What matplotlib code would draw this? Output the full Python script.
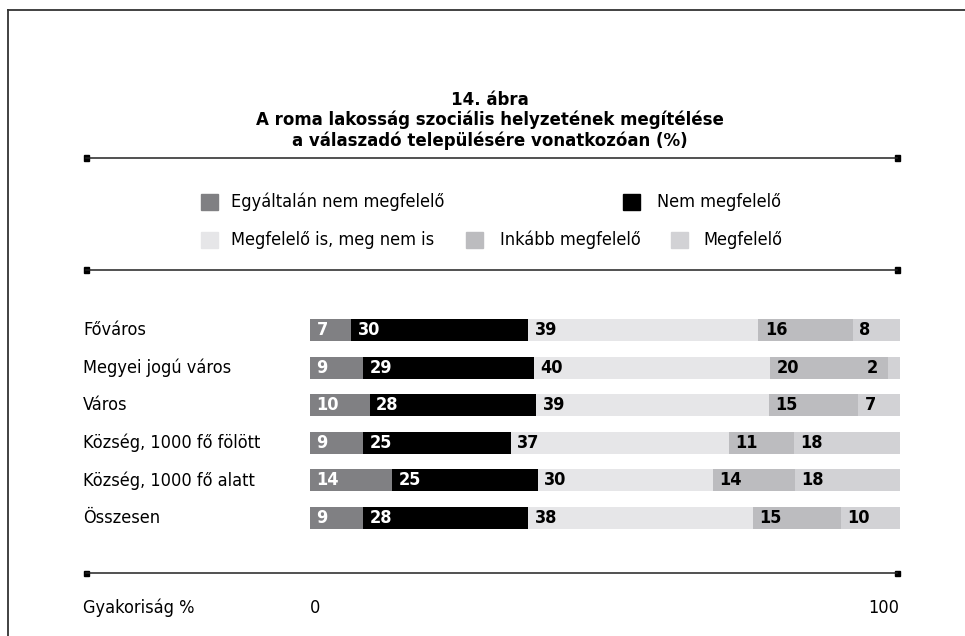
import numpy as np
import matplotlib
matplotlib.use('Agg')
import matplotlib.pyplot as plt
from matplotlib.lines import Line2D
from matplotlib.patches import Rectangle

plt.rcParams['font.family'] = ['DejaVu Sans']
plt.rcParams['font.stretch'] = 'condensed'

# data
categories = ['Főváros', 'Megyei jogú város', 'Város',
              'Község, 1000 fő fölött', 'Község, 1000 fő alatt', 'Összesen']
series = ['Egyáltalán nem megfelelő', 'Nem megfelelő',
          'Megfelelő is, meg nem is', 'Inkább megfelelő', 'Megfelelő']
egyaltalan = [7, 9, 10, 9, 14, 9]
nem = [30, 29, 28, 25, 25, 28]
semleges = [39, 40, 39, 37, 30, 38]
inkabb = [16, 20, 15, 11, 14, 15]
megfelelo = [8, 2, 7, 18, 18, 10]

colors = ['#808083', '#000000', '#e6e6e8', '#bcbcbf', '#d2d2d5']
label_colors = ['white', 'white', 'black', 'black', 'black']

W, H = 965, 636
fig = plt.figure(figsize=(W / 100, H / 100), dpi=100)


def fx(px):
    return px / W


def fy(py):
    return 1 - py / H


# frame
fig.add_artist(Line2D([fx(8), fx(8)], [fy(10), fy(640)], color='#333333', lw=1.3))
fig.add_artist(Line2D([fx(8), fx(970)], [fy(10), fy(10)], color='#333333', lw=1.3))

# horizontal rules with square ends
for ry in [158, 270, 573]:
    fig.add_artist(Line2D([fx(86), fx(897)], [fy(ry), fy(ry)], color='#222222', lw=1.1))
    for ex in [86, 897]:
        fig.add_artist(Rectangle((fx(ex - 2.5), fy(ry + 2.5)), 5 / W, 5 / H,
                                 color='black', transform=fig.transFigure))

# title
fig.text(fx(490), fy(100), '14. ábra', ha='center', va='center',
         fontsize=13.3, fontweight='bold')
fig.text(fx(490), fy(120), 'A roma lakosság szociális helyzetének megítélése',
         ha='center', va='center', fontsize=13.3, fontweight='bold')
fig.text(fx(490), fy(141), 'a válaszadó településére vonatkozóan (%)',
         ha='center', va='center', fontsize=13.3, fontweight='bold')

# legend
legend_pos = [(201, 202, 231), (623, 202, 657), (201, 240, 231),
              (466, 240, 500), (671, 240, 703)]
for (sx, sy, tx), name, c in zip(legend_pos, series, colors):
    fig.add_artist(Rectangle((fx(sx), fy(sy + 8)), 17 / W, 16 / H,
                             color=c, transform=fig.transFigure))
    fig.text(fx(tx), fy(sy), name, ha='left', va='center', fontsize=13)

# bars
top_c, step = 330, 37.6
ax = fig.add_axes([fx(310), fy(top_c + step * 5.5), fx(900) - fx(310), step * 6 / H])
values = np.array([egyaltalan, nem, semleges, inkabb, megfelelo], dtype=float)
shares = values / values.sum(axis=0) * 100
y = np.arange(len(categories))
left = np.zeros(len(categories))
for i in range(len(series)):
    ax.barh(y, shares[i], left=left, height=0.585, color=colors[i], linewidth=0)
    for j in range(len(categories)):
        v = values[i, j]
        if v < 5:
            ax.text(left[j] - 1.8, y[j], f'{v:.0f}', ha='right', va='center',
                    fontsize=13, fontweight='bold', color=label_colors[i])
        else:
            ax.text(left[j] + 1.1, y[j], f'{v:.0f}', ha='left', va='center',
                    fontsize=13, fontweight='bold', color=label_colors[i])
    left += shares[i]
ax.set_xlim(0, 100)
ax.set_ylim(5.5, -0.5)
ax.axis('off')

for j, cat in enumerate(categories):
    fig.text(fx(83), fy(top_c + step * j), cat, ha='left', va='center', fontsize=13)

# bottom axis labels
fig.text(fx(83), fy(608), 'Gyakoriság %', ha='left', va='center', fontsize=13)
fig.text(fx(315), fy(608), '0', ha='center', va='center', fontsize=13)
fig.text(fx(899), fy(608), '100', ha='right', va='center', fontsize=13)

fig.savefig('out.png', dpi=100)
